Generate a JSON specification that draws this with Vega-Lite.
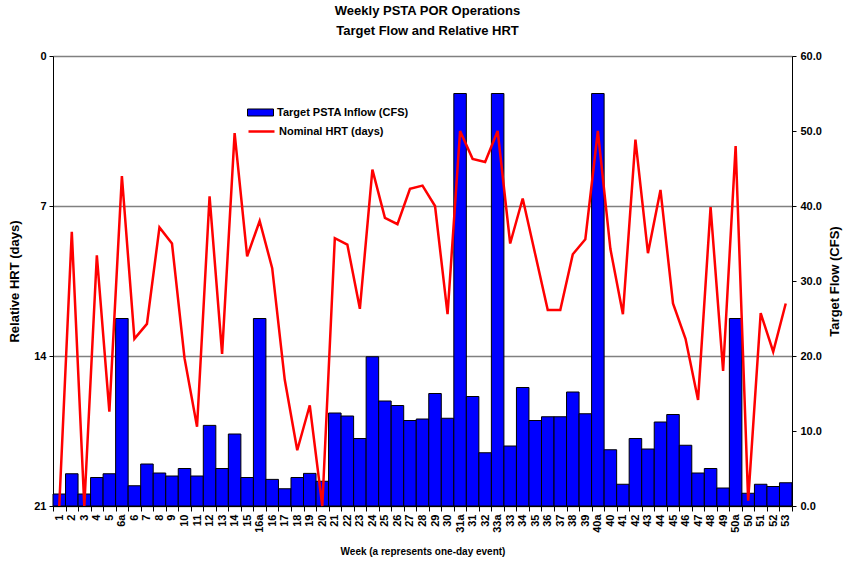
{
  "$schema": "https://vega.github.io/schema/vega-lite/v6.json",
  "width": 739,
  "height": 450,
  "autosize": {"type": "none"},
  "padding": {"left": 53, "top": 56, "right": 51, "bottom": 55},
  "background": "white",
  "title": {
    "text": ["Weekly PSTA POR Operations", "Target Flow and Relative HRT"],
    "font": "Liberation Sans",
    "fontSize": 13,
    "fontWeight": "bold",
    "lineHeight": 20,
    "anchor": "middle",
    "offset": 12,
    "dx": 5,
    "color": "black"
  },
  "config": {
    "view": {"stroke": null},
    "font": "Liberation Sans",
    "axis": {
      "labelFont": "Liberation Sans",
      "labelFontSize": 11,
      "labelFontWeight": "bold",
      "labelColor": "black",
      "titleFont": "Liberation Sans",
      "titleFontWeight": "bold",
      "titleColor": "black",
      "domainColor": "black",
      "tickColor": "black",
      "domainWidth": 1,
      "tickWidth": 1
    },
    "legend": {
      "labelFont": "Liberation Sans",
      "labelFontSize": 11,
      "labelFontWeight": "bold",
      "labelColor": "black",
      "padding": 0
    }
  },
  "data": {
    "values": [
      {"week": "1", "flow": 1.6, "hrt": 21},
      {"week": "2", "flow": 4.3, "hrt": 8.2},
      {"week": "3", "flow": 1.6, "hrt": 21},
      {"week": "4", "flow": 3.8, "hrt": 9.3},
      {"week": "5", "flow": 4.3, "hrt": 16.6},
      {"week": "6a", "flow": 25.0, "hrt": 5.6},
      {"week": "6", "flow": 2.7, "hrt": 13.2},
      {"week": "7", "flow": 5.6, "hrt": 12.5},
      {"week": "8", "flow": 4.4, "hrt": 8.0},
      {"week": "9", "flow": 4.0, "hrt": 8.75},
      {"week": "10", "flow": 5.0, "hrt": 14.1},
      {"week": "11", "flow": 4.0, "hrt": 17.3},
      {"week": "12", "flow": 10.75, "hrt": 6.55},
      {"week": "13", "flow": 5.0, "hrt": 13.9},
      {"week": "14", "flow": 9.6, "hrt": 3.6},
      {"week": "15", "flow": 3.8, "hrt": 9.35},
      {"week": "16a", "flow": 25.0, "hrt": 7.7},
      {"week": "16", "flow": 3.55, "hrt": 9.9},
      {"week": "17", "flow": 2.3, "hrt": 15.1},
      {"week": "18", "flow": 3.8, "hrt": 18.4},
      {"week": "19", "flow": 4.35, "hrt": 16.3},
      {"week": "20", "flow": 3.3, "hrt": 21},
      {"week": "21", "flow": 12.4, "hrt": 8.5},
      {"week": "22", "flow": 12.0, "hrt": 8.8},
      {"week": "23", "flow": 9.0, "hrt": 11.8},
      {"week": "24", "flow": 19.9, "hrt": 5.3},
      {"week": "25", "flow": 14.0, "hrt": 7.55},
      {"week": "26", "flow": 13.4, "hrt": 7.85},
      {"week": "27", "flow": 11.4, "hrt": 6.2},
      {"week": "28", "flow": 11.6, "hrt": 6.05},
      {"week": "29", "flow": 15.0, "hrt": 7.0},
      {"week": "30", "flow": 11.7, "hrt": 12.05},
      {"week": "31a", "flow": 55.0, "hrt": 3.5},
      {"week": "31", "flow": 14.6, "hrt": 4.8},
      {"week": "32", "flow": 7.1, "hrt": 4.95},
      {"week": "33a", "flow": 55.0, "hrt": 3.5},
      {"week": "33", "flow": 8.0, "hrt": 8.75},
      {"week": "34", "flow": 15.8, "hrt": 6.65},
      {"week": "35", "flow": 11.4, "hrt": 9.25},
      {"week": "36", "flow": 11.9, "hrt": 11.85},
      {"week": "37", "flow": 11.9, "hrt": 11.85},
      {"week": "38", "flow": 15.2, "hrt": 9.25},
      {"week": "39", "flow": 12.3, "hrt": 8.55},
      {"week": "40a", "flow": 55.0, "hrt": 3.5},
      {"week": "40", "flow": 7.5, "hrt": 9.0},
      {"week": "41", "flow": 2.9, "hrt": 12.05},
      {"week": "42", "flow": 9.0, "hrt": 3.9},
      {"week": "43", "flow": 7.6, "hrt": 9.2},
      {"week": "44", "flow": 11.2, "hrt": 6.25},
      {"week": "45", "flow": 12.2, "hrt": 11.55},
      {"week": "46", "flow": 8.1, "hrt": 13.2},
      {"week": "47", "flow": 4.4, "hrt": 16.05},
      {"week": "48", "flow": 5.0, "hrt": 7.05},
      {"week": "49", "flow": 2.4, "hrt": 14.7},
      {"week": "50a", "flow": 25.0, "hrt": 4.2},
      {"week": "50", "flow": 1.7, "hrt": 20.75},
      {"week": "51", "flow": 2.9, "hrt": 12.0},
      {"week": "52", "flow": 2.6, "hrt": 13.8},
      {"week": "53", "flow": 3.1, "hrt": 11.55}
    ]
  },
  "layer": [
    {
      "mark": {"type": "bar", "stroke": "black", "strokeWidth": 1},
      "encoding": {
        "x": {
          "field": "week",
          "type": "nominal",
          "sort": null,
          "scale": {"paddingInner": 0, "paddingOuter": 0},
          "axis": {
            "title": "Week (a represents one-day event)",
            "titleFontSize": 10,
            "titlePadding": 14,
            "labelAngle": -90,
            "labelPadding": 3,
            "tickBand": "extent",
            "tickSize": 5
          }
        },
        "y": {
          "field": "flow",
          "type": "quantitative",
          "scale": {"domain": [0, 60], "nice": false},
          "axis": {
            "orient": "right",
            "values": [0, 10, 20, 30, 40, 50, 60],
            "format": ".1f",
            "grid": false,
            "tickSize": 4,
            "labelPadding": 4,
            "title": "Target Flow (CFS)",
            "titleFontSize": 13,
            "titleAngle": 270,
            "titleBaseline": "bottom",
            "titlePadding": 20
          }
        },
        "fill": {
          "datum": "Target PSTA Inflow (CFS)",
          "scale": {"range": ["#0000FF"]},
          "legend": {
            "title": null,
            "orient": "none",
            "legendX": 194,
            "legendY": 43,
            "symbolType": "M-1,-0.27H1V0.27H-1Z",
            "symbolSize": 676,
            "symbolStrokeColor": "black",
            "symbolStrokeWidth": 1,
            "labelOffset": 3
          }
        }
      }
    },
    {
      "mark": {"type": "line", "strokeWidth": 2.5},
      "encoding": {
        "x": {"field": "week", "type": "nominal", "sort": null},
        "y": {
          "field": "hrt",
          "type": "quantitative",
          "scale": {"domain": [0, 21], "reverse": true, "nice": false},
          "axis": {
            "orient": "left",
            "values": [0, 7, 14, 21],
            "grid": true,
            "gridColor": "#808080",
            "gridWidth": 1.5,
            "tickSize": 4,
            "labelPadding": 3,
            "title": "Relative HRT (days)",
            "titleFontSize": 13,
            "titlePadding": 12
          }
        },
        "stroke": {
          "datum": "Nominal HRT (days)",
          "scale": {"range": ["#FF0000"]},
          "legend": {
            "title": null,
            "orient": "none",
            "legendX": 194,
            "legendY": 61,
            "symbolType": "stroke",
            "symbolSize": 676,
            "symbolStrokeWidth": 2.5,
            "labelOffset": 3
          }
        }
      }
    }
  ],
  "resolve": {"scale": {"y": "independent"}, "axis": {"y": "independent"}}
}
